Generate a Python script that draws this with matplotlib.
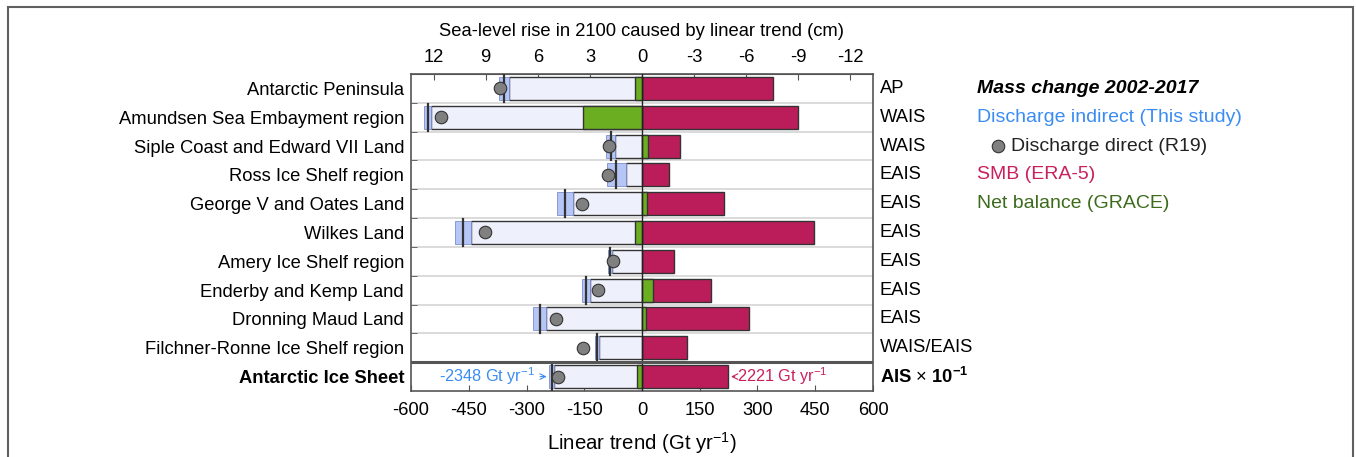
import matplotlib
matplotlib.use("Agg")
import matplotlib.pyplot as plt
import matplotlib.transforms as mtransforms
from matplotlib.patches import Rectangle

plt.rcParams['font.family'] = ['Liberation Sans', 'DejaVu Sans']
plt.rcParams['mathtext.fontset'] = 'custom'
plt.rcParams['mathtext.rm'] = 'Liberation Sans'
plt.rcParams['mathtext.bf'] = 'Liberation Sans:bold'
plt.rcParams['axes.unicode_minus'] = False

# rows, top to bottom (AIS row is shown x 10^-1)
regions = ['Antarctic Peninsula', 'Amundsen Sea Embayment region',
           'Siple Coast and Edward VII Land', 'Ross Ice Shelf region',
           'George V and Oates Land', 'Wilkes Land', 'Amery Ice Shelf region',
           'Enderby and Kemp Land', 'Dronning Maud Land',
           'Filchner-Ronne Ice Shelf region', 'Antarctic Ice Sheet']
sheets = ['AP', 'WAIS', 'WAIS', 'EAIS', 'EAIS', 'EAIS', 'EAIS', 'EAIS', 'EAIS',
          'WAIS/EAIS', r'AIS $\times$ $\mathbf{10^{-1}}$']

# Gt/yr
discharge_indirect = [-358, -557, -81.3, -67, -199.8, -464.5, -83.3, -145.8, -266, -117.5, -234.8]
discharge_err = [13, 8, 11.7, 25, 20.7, 21.5, 5.3, 11.3, 17, 5.5, 5.5]
discharge_direct = [-369, -521, -86.7, -88.5, -157, -408, -76, -113.7, -224, -152, -218.6]
smb = [341, 405, 98, 69.5, 214, 447, 84, 178, 278.5, 118, 222.1]
net_balance = [-19, -154, 16, 0, 13, -19, 0, 29.5, 11, 0, -12.7]

GT_PER_CM = 45.1

c_box = '#eef0fc'
c_band = '#b5c5f5'
c_smb = '#bb1d5a'
c_net = '#6cae22'
c_edge = '#333333'
c_blue = '#3a8cf2'
c_red = '#c8205c'
c_green = '#3d6b1c'

fig = plt.figure(figsize=(13.56, 4.57), dpi=100)
ax = fig.add_axes([0.3031, 0.1444, 0.3407, 0.6937])

fs = 13.2
fs_leg = 14
n = len(regions)
ys = list(range(n))
h = 0.8

for i in ys:
    d, e = discharge_indirect[i], discharge_err[i]
    inner = d + e
    ax.barh(i, smb[i], height=h, color=c_smb, edgecolor=c_edge, lw=1, zorder=2)
    ax.barh(i, inner, height=h, color=c_box, edgecolor=c_edge, lw=1, zorder=2)
    ax.barh(i, 2 * e, left=d - e, height=h, color=c_band, edgecolor='#7d8fc8', lw=0.6, zorder=3)
    if net_balance[i] != 0:
        ax.barh(i, net_balance[i], height=h, color=c_net, edgecolor=c_edge, lw=1, zorder=3)
    ax.plot([d, d], [i - 0.47, i + 0.47], color=c_edge, lw=1.6, zorder=4)
    ax.plot(discharge_direct[i], i, 'o', ms=9, mfc='#808080', mec=c_edge, mew=0.8, zorder=5)

ax.axvline(0, color='#222222', lw=1, zorder=6)
for b in [k + 0.5 for k in range(n - 2)]:
    ax.axhline(b, color='#d4d4d4', lw=1.2, zorder=1)
ax.axhline(n - 1.5, color='#555555', lw=2.2, zorder=7)

ax.set_xlim(-600, 600)
ax.set_ylim(n - 0.5, -0.5)
ax.set_xticks([-600, -450, -300, -150, 0, 150, 300, 450, 600])
ax.set_yticks(ys)
ax.set_yticklabels(regions, fontsize=fs)
ax.get_yticklabels()[-1].set_fontweight('bold')
ax.set_yticks([k + 0.5 for k in range(n - 1)], minor=True)
ax.tick_params(axis='y', which='major', length=0, pad=5)
ax.tick_params(axis='y', which='minor', length=4, direction='in', color='#555555')
ax.tick_params(axis='x', direction='in', length=4, labelsize=fs, pad=8, color='#555555')
ax.set_xlabel(r'Linear trend (Gt yr$^{-1}$)', fontsize=fs + 1.5, labelpad=8)
for s in ax.spines.values():
    s.set_color('#555555')
    s.set_linewidth(1.2)

top = ax.secondary_xaxis('top', functions=(lambda x: -x / GT_PER_CM, lambda c: -c * GT_PER_CM))
top.set_xticks([12, 9, 6, 3, 0, -3, -6, -9, -12])
top.tick_params(direction='in', length=4, labelsize=fs, pad=6, color='#555555')
top.set_xlabel('Sea-level rise in 2100 caused by linear trend (cm)', fontsize=fs, labelpad=9)
top.spines['top'].set_color('#555555')

# right-hand ice sheet labels
tr = mtransforms.blended_transform_factory(ax.transAxes, ax.transData)
for i in ys:
    ax.text(1.015, i, sheets[i], transform=tr, fontsize=fs, va='center',
            fontweight='bold' if i == n - 1 else 'normal')

# AIS annotations
last = n - 1
ax.annotate('', xy=(discharge_indirect[last] - discharge_err[last], last),
            xytext=(-272, last),
            arrowprops=dict(arrowstyle='->', color=c_blue, lw=0.8), zorder=8)
ax.text(-278, last, r'-2348 Gt yr$^{-1}$', color=c_blue, fontsize=fs - 1.5, ha='right', va='center')
ax.annotate('', xy=(smb[last] + 2, last), xytext=(248, last),
            arrowprops=dict(arrowstyle='->', color=c_red, lw=0.8), zorder=8)
ax.text(248, last, r'2221 Gt yr$^{-1}$', color=c_red, fontsize=fs - 1.5, ha='left', va='center')

# legend block
lt = mtransforms.blended_transform_factory(fig.transFigure, ax.transData)
lx = 977 / 1356
ax.text(lx, 0, 'Mass change 2002-2017', transform=lt, fontsize=fs_leg, fontweight='bold',
        style='italic', va='center')
ax.text(lx, 1, 'Discharge indirect (This study)', transform=lt, fontsize=fs_leg, color=c_blue, va='center')
ax.plot([998 / 1356], [2], 'o', transform=lt, ms=9, mfc='#808080', mec=c_edge, mew=0.8, clip_on=False)
ax.text(1011 / 1356, 2, 'Discharge direct (R19)', transform=lt, fontsize=fs_leg, color='#222222', va='center')
ax.text(lx, 3, 'SMB (ERA-5)', transform=lt, fontsize=fs_leg, color=c_red, va='center')
ax.text(lx, 4, 'Net balance (GRACE)', transform=lt, fontsize=fs_leg, color=c_green, va='center')

# figure frame
fig.patches.append(Rectangle((8 / 1356, -0.05), 1345 / 1356, 1.05 - 7 / 457,
                             transform=fig.transFigure, fill=False, edgecolor='#606060', lw=1.5))

fig.savefig('out.png', dpi=100)
